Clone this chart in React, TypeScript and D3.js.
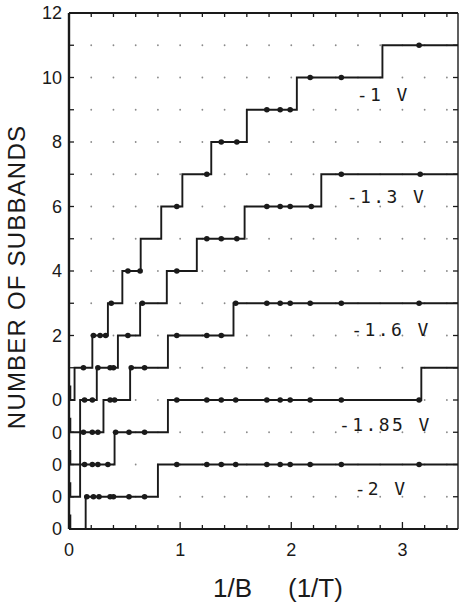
// Number of occupied subbands vs 1/B for several gate voltages (staircase traces, offset)
import React from 'react';
import * as d3 from 'd3';

// gate voltages, one trace each; offset = where that trace's zero sits on the shared axis
const voltages = ['-1 V', '-1.3 V', '-1.6 V', '-1.85 V', '-2 V'];
const offsets = [4, 3, 2, 1, 0];

// 1/B values where the subband count goes up by one
const steps: number[][] = [
  [0.05, 0.21, 0.35, 0.48, 0.645, 0.83, 1.02, 1.28, 1.6, 2.05, 2.82],
  [0.1, 0.25, 0.44, 0.64, 0.88, 1.15, 1.58, 2.27],
  [0.1, 0.31, 0.55, 0.89, 1.48],
  [0.1, 0.41, 0.89, 3.17],
  [0.15, 0.8],
];

// measured points (1/B)
const dots: number[][] = [
  [0.13, 0.22, 0.28, 0.33, 0.38, 0.53, 0.64, 0.97, 1.24, 1.37, 1.51, 1.78, 1.9, 1.99, 2.17, 2.45, 3.15],
  [0.14, 0.21, 0.26, 0.37, 0.4, 0.53, 0.66, 0.97, 1.24, 1.37, 1.51, 1.78, 1.9, 1.99, 2.18, 2.45, 3.16],
  [0.13, 0.21, 0.26, 0.37, 0.41, 0.56, 0.68, 0.97, 1.24, 1.37, 1.5, 1.78, 1.9, 1.99, 2.17, 2.45, 3.15],
  [0.14, 0.21, 0.26, 0.35, 0.42, 0.54, 0.68, 0.97, 1.24, 1.37, 1.5, 1.78, 1.9, 1.99, 2.17, 2.45, 3.15],
  [0.16, 0.22, 0.27, 0.37, 0.4, 0.54, 0.68, 0.97, 1.24, 1.37, 1.5, 1.78, 1.9, 1.99, 2.17, 2.45, 3.15],
];

// where each voltage label sits (1/B, axis units)
const labelX = [2.59, 2.5, 2.54, 2.43, 2.57];
const labelY = [13.46, 10.3, 6.17, 3.22, 1.24];

const yTickPos = [0, 1, 2, 3, 4, 6, 8, 10, 12, 14, 16];
const yTickText = ['0', '0', '0', '0', '0', '2', '4', '6', '8', '10', '12'];
const xTickPos = [0, 1, 2, 3];

const W = 461;
const H = 603;
const margin = { top: 13, right: 3, bottom: 74, left: 69 };
const X_MAX = 3.5;
const Y_MAX = 16;

const font = 'Arial, "Liberation Sans", Helvetica, sans-serif';
const ink = '#1a1a1a';

export default function App() {
  const x = d3.scaleLinear().domain([0, X_MAX]).range([margin.left, W - margin.right]);
  const y = d3.scaleLinear().domain([0, Y_MAX]).range([H - margin.bottom, margin.top]);

  const countAt = (st: number[], v: number) => st.filter((s) => s < v).length;

  const line = d3
    .line<[number, number]>()
    .x((d) => x(d[0]))
    .y((d) => y(d[1]));

  const tracePoints = (i: number): [number, number][] => {
    const off = offsets[i];
    const pts: [number, number][] = [
      [0.012, off + 0.45],
      [0.012, off],
    ];
    steps[i].forEach((s, k) => {
      pts.push([s, off + k]);
      pts.push([s, off + k + 1]);
    });
    pts.push([X_MAX, off + steps[i].length]);
    return pts;
  };

  const gridX = d3.range(1, 18).map((k) => k * 0.2);
  const gridY = d3.range(1, Y_MAX);
  const minorX = d3.range(1, 18).map((k) => +(k * 0.2).toFixed(2));

  const x0 = x(0);
  const x1 = x(X_MAX);
  const yTop = y(Y_MAX);
  const yBot = y(0);

  return (
    <svg
      width={W}
      height={H}
      style={{ position: 'absolute', left: 0, top: 0, background: '#fff' }}
      fontFamily={font}
    >
      {/* dotted grid */}
      <g fill="#8a8a8a">
        {gridX.map((gx) =>
          gridY.map((gy) => <circle key={`${gx}-${gy}`} cx={x(gx)} cy={y(gy)} r={0.9} />)
        )}
      </g>

      {/* frame */}
      <line x1={x0} x2={x0} y1={yTop} y2={yBot} stroke={ink} strokeWidth={2.4} />
      <line x1={x0} x2={x1} y1={yBot} y2={yBot} stroke={ink} strokeWidth={2.2} />
      <line x1={x0} x2={x1} y1={yTop} y2={yTop} stroke={ink} strokeWidth={1.8} />
      <line x1={x1} x2={x1} y1={yTop} y2={yBot} stroke={ink} strokeWidth={1.4} />

      {/* ticks */}
      <g stroke={ink} strokeWidth={1.3}>
        {gridY.map((v) => (
          <React.Fragment key={`yt${v}`}>
            <line x1={x0} x2={x0 + 5} y1={y(v)} y2={y(v)} />
            <line x1={x1} x2={x1 - 5} y1={y(v)} y2={y(v)} />
          </React.Fragment>
        ))}
        {minorX.map((v) => (
          <React.Fragment key={`xt${v}`}>
            <line x1={x(v)} x2={x(v)} y1={yBot} y2={yBot - (Number.isInteger(v) ? 7 : 4)} />
            <line x1={x(v)} x2={x(v)} y1={yTop} y2={yTop + 4} />
          </React.Fragment>
        ))}
      </g>

      {/* staircase traces */}
      {voltages.map((v, i) => (
        <g key={v}>
          <path d={line(tracePoints(i)) || ''} fill="none" stroke={ink} strokeWidth={1.9} />
          {dots[i].map((d) => (
            <circle key={d} cx={x(d)} cy={y(offsets[i] + countAt(steps[i], d))} r={2.8} fill={ink} />
          ))}
          <text
            x={x(labelX[i])}
            y={y(labelY[i])}
            dy="0.35em"
            fontSize={18}
            fontFamily='"DejaVu Sans Mono", "Liberation Mono", monospace'
            letterSpacing={2.4}
            fill={ink}
          >
            {v}
          </text>
        </g>
      ))}

      {/* y tick labels */}
      <g fontSize={18} fill={ink} textAnchor="end">
        {yTickPos.map((p, k) => (
          <text key={`yl${k}`} x={x0 - 7} y={y(p)} dy="0.36em">
            {yTickText[k]}
          </text>
        ))}
      </g>

      {/* x tick labels */}
      <g fontSize={18} fill={ink} textAnchor="middle">
        {xTickPos.map((p) => (
          <text key={`xl${p}`} x={x(p)} y={yBot + 27}>
            {p}
          </text>
        ))}
      </g>

      {/* axis titles */}
      <text x={213} y={597} fontSize={26} fill={ink}>
        1/B
      </text>
      <text x={288} y={597} fontSize={26} fill={ink}>
        (1/T)
      </text>
      <text
        transform={`translate(25, ${(122 + 432) / 2}) rotate(-90)`}
        textAnchor="middle"
        fontSize={24}
        letterSpacing={1.2}
        fill={ink}
      >
        NUMBER OF SUBBANDS
      </text>
    </svg>
  );
}
